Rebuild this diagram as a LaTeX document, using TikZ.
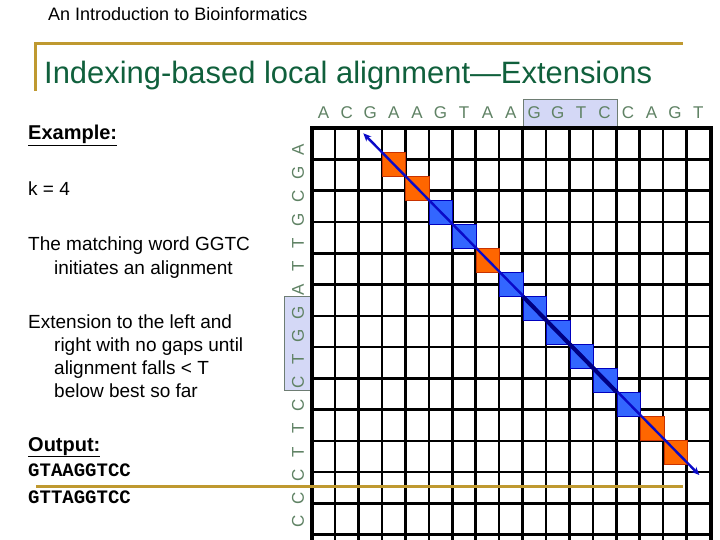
\documentclass[tikz,border=0pt]{standalone}
\usepackage{fontspec}
\setmainfont{Liberation Sans}
\newfontfamily\monofam{Liberation Mono}
\usetikzlibrary{arrows.meta}
\definecolor{gold}{RGB}{191,153,48}
\definecolor{titlegreen}{RGB}{16,96,60}
\definecolor{seqgreen}{RGB}{95,130,100}
\definecolor{hlfill}{RGB}{212,216,246}
\definecolor{hlborder}{RGB}{110,125,115}
\definecolor{sqorange}{RGB}{255,102,0}
\definecolor{sqorangeb}{RGB}{200,50,0}
\definecolor{sqblue}{RGB}{51,102,255}
\definecolor{sqblueb}{RGB}{0,0,190}
\definecolor{arrowblue}{RGB}{10,10,200}
\definecolor{seedblue}{RGB}{0,0,130}
\tikzset{
  goldline/.style={gold, line width=3},
  gridline/.style={black, line width=2.6},
  hlbox/.style={draw=hlborder, fill=hlfill, line width=0.8},
  seqletter/.style={text=seqgreen, font=\fontsize{17}{20}\selectfont, inner sep=0},
  bodytext/.style={anchor=base west, inner sep=0, font=\fontsize{19}{22}\selectfont},
  headtext/.style={anchor=base west, inner sep=0, font=\fontsize{20}{22}\selectfont\bfseries},
  monotext/.style={anchor=base west, inner sep=0, font=\fontsize{19}{22}\selectfont\monofam\bfseries},
  sqO/.style={fill=sqorange, draw=sqorangeb, line width=0.8},
  sqB/.style={fill=sqblue, draw=sqblueb, line width=0.8}
}
\begin{document}
\begin{tikzpicture}[x=1pt,y=-1pt]
\useasboundingbox (0,0) rectangle (720,540);
\fill[white] (0,0) rectangle (720,540);

% header
\node[anchor=base west, inner sep=0, font=\fontsize{18}{20}\selectfont] (header) at (48,21) {An Introduction to Bioinformatics};

% title bar
\draw[goldline] (35.3,90.7) -- (35.3,43.3) -- (683.3,43.3);
\node[anchor=base west, inner sep=0, text=titlegreen, font=\fontsize{30.9}{36}\selectfont] (title) at (44,83.3) {Indexing-based local alignment—Extensions};

% highlight boxes
\draw[hlbox] (523.3,99) rectangle (617.3,126);
\draw[hlbox] (284.3,296) rectangle (310.7,390);

% top sequence
\foreach \l [count=\i from 0] in {A,C,G,A,A,G,T,A,A,G,G,T,C,C,A,G,T}
  \node[seqletter] (top\i) at ({311.7+(\i+0.5)*23.43},113) {\l};

% left sequence (rotated)
\foreach \l [count=\j from 0] in {A,G,C,G,T,T,A,G,G,T,C,C,T,T,C,C,C}
  \node[seqletter, rotate=90] (left\j) at (298,{150+\j*23.23}) {\l};

% grid
\foreach \i in {1,...,16}
  \draw[gridline] ({311.7+\i*23.43},128.3) -- ({311.7+\i*23.43},545);
\foreach \j in {1,...,13}
  \draw[gridline] (311.7,{128.3+\j*31.25}) -- (710.5,{128.3+\j*31.25});
\draw[black, line width=4] (311.7,545) -- (311.7,128.3) -- (710.5,128.3) -- (710.5,545);

% diagonal squares
\foreach \k/\s in {0/sqO,1/sqO,2/sqB,3/sqB,4/sqO,5/sqB,6/sqB,7/sqB,8/sqB,9/sqB,10/sqB,11/sqO,12/sqO}
  \draw[\s] ({381.9+\k*23.5},{152.7+\k*23.97}) rectangle ({381.9+(\k+1)*23.5},{152.7+(\k+1)*23.97});

% arrow
\coordinate (astart) at (363.3,133.3);
\coordinate (aend) at (699.3,475);
\coordinate (sstart) at (522.9,296.5);
\coordinate (send) at (616.9,392.4);
\draw[arrowblue, line width=2.4, {Stealth[length=8,width=7]}-{Stealth[length=8,width=7]}] (astart) -- (aend);
\draw[seedblue, line width=4] (sstart) -- (send);

% bottom gold line
\draw[goldline] (36,486) -- (683,486);

% left text
\node[headtext] (ex) at (28,140) {\underline{Example:}};
\node[bodytext] (k4) at (28,196) {k = 4};
\node[bodytext] (m1) at (28,251) {The matching word GGTC};
\node[bodytext] (m2) at (54,274) {initiates an alignment};
\node[bodytext] (e1) at (28,328) {Extension to the left and};
\node[bodytext] (e2) at (54,351) {right with no gaps until};
\node[bodytext] (e3) at (54,374) {alignment falls < T};
\node[bodytext] (e4) at (54,397) {below best so far};
\node[headtext] (out) at (28,451) {\underline{Output:}};
\node[monotext] (o1) at (28,476.5) {GTAAGGTCC};
\node[monotext] (o2) at (28,503.5) {GTTAGGTCC};
\end{tikzpicture}
\end{document}
